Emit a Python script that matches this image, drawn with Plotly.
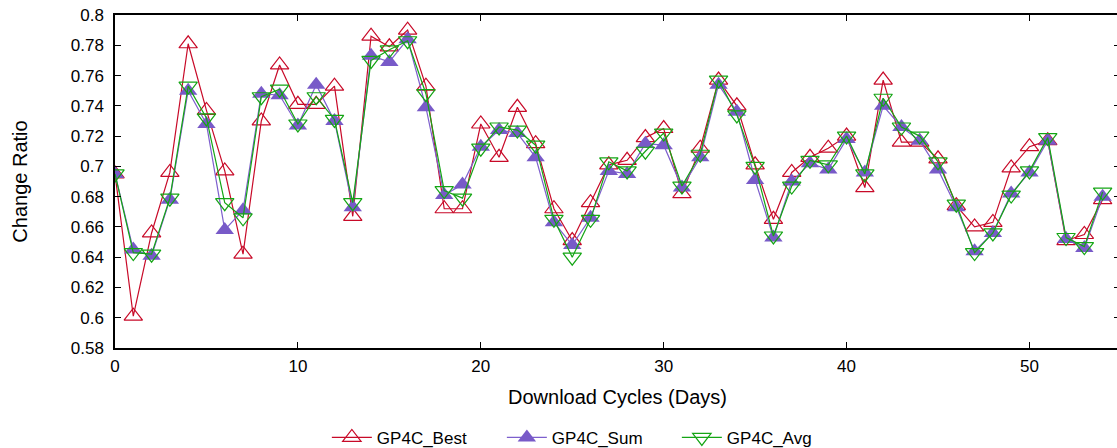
import plotly.graph_objects as go

days = list(range(55))

gp4c_best = [0.695, 0.601, 0.656, 0.696, 0.781, 0.737, 0.697, 0.642, 0.730, 0.767,
             0.741, 0.741, 0.753, 0.667, 0.786, 0.779, 0.790, 0.753, 0.672, 0.672,
             0.728, 0.706, 0.739, 0.715, 0.672, 0.651, 0.676, 0.701, 0.704, 0.719,
             0.725, 0.682, 0.712, 0.757, 0.740, 0.701, 0.665, 0.696, 0.706, 0.712,
             0.720, 0.686, 0.757, 0.716, 0.716, 0.705, 0.674, 0.660, 0.663, 0.699,
             0.713, 0.717, 0.651, 0.655, 0.678]

gp4c_sum = [0.695, 0.645, 0.641, 0.678, 0.750, 0.728, 0.658, 0.671, 0.748, 0.747,
            0.727, 0.754, 0.730, 0.673, 0.773, 0.769, 0.784, 0.739, 0.681, 0.688,
            0.713, 0.724, 0.722, 0.706, 0.663, 0.648, 0.666, 0.697, 0.695, 0.715,
            0.714, 0.686, 0.706, 0.754, 0.736, 0.691, 0.653, 0.690, 0.702, 0.698,
            0.718, 0.696, 0.740, 0.726, 0.717, 0.698, 0.673, 0.644, 0.656, 0.682,
            0.696, 0.717, 0.652, 0.646, 0.680]

gp4c_avg = [0.695, 0.643, 0.642, 0.679, 0.753, 0.732, 0.676, 0.666, 0.746, 0.751,
            0.728, 0.746, 0.731, 0.676, 0.770, 0.777, 0.783, 0.748, 0.684, 0.679,
            0.712, 0.726, 0.724, 0.714, 0.665, 0.640, 0.665, 0.703, 0.697, 0.710,
            0.722, 0.687, 0.708, 0.757, 0.734, 0.700, 0.654, 0.687, 0.704, 0.701,
            0.720, 0.695, 0.745, 0.726, 0.720, 0.703, 0.675, 0.643, 0.656, 0.681,
            0.697, 0.719, 0.653, 0.647, 0.683]

y_tick_vals = [0.58, 0.60, 0.62, 0.64, 0.66, 0.68, 0.70, 0.72, 0.74, 0.76, 0.78, 0.80]
y_tick_text = ["0.58", "0.6", "0.62", "0.64", "0.66", "0.68", "0.7", "0.72", "0.74", "0.76", "0.78", "0.8"]
x_tick_vals = [0, 10, 20, 30, 40, 50]

FONT = "Liberation Sans, Arial, sans-serif"

fig = go.Figure()
fig.add_trace(go.Scatter(
    x=days, y=gp4c_best, name="GP4C_Best", mode="lines+markers",
    line=dict(color="rgb(200,10,40)", width=1.2),
    marker=dict(symbol="triangle-up-open", size=16, color="rgb(200,10,40)",
                line=dict(width=1.2, color="rgb(200,10,40)")),
))
fig.add_trace(go.Scatter(
    x=days, y=gp4c_sum, name="GP4C_Sum", mode="lines+markers",
    line=dict(color="rgb(125,95,205)", width=1.2),
    marker=dict(symbol="triangle-up", size=16, color="rgb(120,90,200)",
                line=dict(width=0)),
))
fig.add_trace(go.Scatter(
    x=days, y=gp4c_avg, name="GP4C_Avg", mode="lines+markers",
    line=dict(color="rgb(20,165,20)", width=1.2),
    marker=dict(symbol="triangle-down-open", size=16, color="rgb(20,165,20)",
                line=dict(width=1.2, color="rgb(20,165,20)")),
))

fig.update_layout(
    width=1120, height=448,
    margin=dict(l=115, r=0, t=15, b=100, autoexpand=False),
    paper_bgcolor="white", plot_bgcolor="white",
    font=dict(family=FONT, size=17, color="black"),
    showlegend=True,
    legend=dict(orientation="h", x=0.472, xanchor="center", y=-0.27, yanchor="middle",
                font=dict(size=17), itemwidth=40, entrywidth=120,
                entrywidthmode="pixels", tracegroupgap=0,
                bgcolor="rgba(0,0,0,0)"),
    xaxis=dict(
        range=[0, 54.95], tickvals=x_tick_vals, ticks="inside", ticklen=6,
        tickcolor="black", showline=True, linecolor="black", linewidth=1.5,
        mirror="allticks", showgrid=False, zeroline=False, automargin=False,
        ticklabelstandoff=2, ticklabeloverflow="allow",
        title=dict(text="Download Cycles (Days)", standoff=15),
        tickfont=dict(size=17),
    ),
    yaxis=dict(
        range=[0.58, 0.8], tickvals=y_tick_vals, ticktext=y_tick_text,
        ticks="inside", ticklen=6, tickcolor="black", showline=True,
        linecolor="black", linewidth=1.5, mirror="allticks", showgrid=False,
        zeroline=False, ticklabelstandoff=6, automargin=False,
        ticklabeloverflow="allow",
        title=dict(text="Change Ratio", standoff=38),
        tickfont=dict(size=17),
    ),
)

fig.write_html("out.html", config={"displayModeBar": False},
               post_script="document.body.style.margin='0';document.body.style.overflow='hidden';")
